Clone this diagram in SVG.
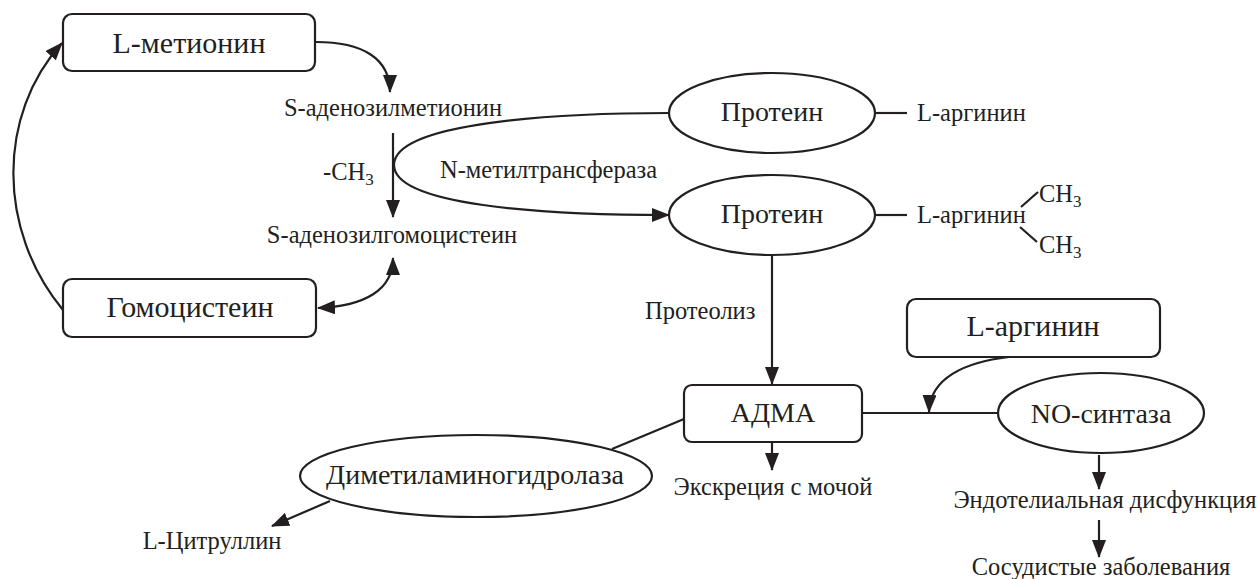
<svg xmlns="http://www.w3.org/2000/svg" width="1257" height="579" viewBox="0 0 1257 579" font-family="'Liberation Serif','DejaVu Serif',serif">
<style>
text{font-family:"Liberation Serif","DejaVu Serif",serif;fill:#231f20}
.box{fill:#fff;stroke:#231f20;stroke-width:2.2}
.ell{fill:#fff;stroke:#231f20;stroke-width:2.2}
.bt{font-size:30px;text-anchor:middle}
.et{font-size:28px;text-anchor:middle}
.lb{font-size:24.5px}
.c{text-anchor:middle}
.ln{fill:none;stroke:#231f20;stroke-width:2.2}
.ar{marker-end:url(#ah)}
.sub{font-size:17px}
</style>
<defs>
<marker id="ah" viewBox="0 0 18 14" refX="17" refY="7" markerWidth="18" markerHeight="14" markerUnits="userSpaceOnUse" orient="auto-start-reverse">
<path d="M0,0 L18,7 L0,14 Z" fill="#231f20"/>
</marker>
</defs>
<g id="connectors">
<path class="ln ar" d="M316 42 C362 42 390 58 390 92"/>
<path class="ln ar" d="M63 310 C-3 230 -3 115 62 43"/>
<path class="ln ar" d="M318 308 C365 306 393 290 393 258" marker-start="url(#ah)"/>
<path class="ln ar" d="M393 133 L393 217"/>
<path class="ln ar" d="M669 113 C560 113 394 122 394 165 C394 205 540 215 669 215"/>
<path class="ln" d="M875 113 L907 113"/>
<path class="ln" d="M875 215 L907 215"/>
<path class="ln" d="M1021 207 L1038 192"/>
<path class="ln" d="M1020 227 L1037 242"/>
<path class="ln ar" d="M772 256 L772 384"/>
<path class="ln" d="M862 413 L998 413"/>
<path class="ln ar" d="M1009 357 C965 362 930 378 929 412"/>
<path class="ln ar" d="M772 442 L772 470"/>
<path class="ln" d="M684 419 L612 449"/>
<path class="ln ar" d="M330 501 L272 526"/>
<path class="ln ar" d="M1099 455 L1099 489"/>
<path class="ln ar" d="M1099 520 L1099 557"/>
</g>
<g id="n-methionine"><rect class="box" x="63" y="14" width="252" height="57" rx="9"/><text class="bt" x="189" y="53">L-метионин</text></g>
<g id="n-homocysteine"><rect class="box" x="63" y="279" width="253" height="58" rx="9"/><text class="bt" x="190" y="317">Гомоцистеин</text></g>
<g id="n-sam"><text class="lb c" x="393" y="116">S-аденозилметионин</text></g>
<g id="n-sah"><text class="lb c" x="392" y="243">S-аденозилгомоцистеин</text></g>
<g id="l-ch3"><text class="lb" x="323" y="180">-CH<tspan class="sub" dy="5">3</tspan></text></g>
<g id="l-nmt"><text class="lb" x="440" y="178">N-метилтрансфераза</text></g>
<g id="n-protein1"><ellipse class="ell" cx="772" cy="113" rx="103" ry="40"/><text class="et" x="772" y="121">Протеин</text></g>
<g id="n-arg1"><text class="lb" x="917" y="121">L-аргинин</text></g>
<g id="n-protein2"><ellipse class="ell" cx="772" cy="215" rx="103" ry="40"/><text class="et" x="772" y="223">Протеин</text></g>
<g id="n-arg2"><text class="lb" x="917" y="223">L-аргинин</text>
<text class="lb" x="1039" y="202">CH<tspan class="sub" dy="5">3</tspan></text>
<text class="lb" x="1039" y="253">CH<tspan class="sub" dy="5">3</tspan></text></g>
<g id="l-proteolysis"><text class="lb" x="645" y="319">Протеолиз</text></g>
<g id="n-larg-box"><rect class="box" x="907" y="299" width="253" height="58" rx="9"/><text class="bt" x="1033" y="336">L-аргинин</text></g>
<g id="n-adma"><rect class="box" x="684" y="385" width="178" height="57" rx="8"/><text class="et" x="773" y="422">АДМА</text></g>
<g id="n-nos"><ellipse class="ell" cx="1101" cy="413" rx="103" ry="40"/><text class="et" x="1101" y="423">NO-синтаза</text></g>
<g id="n-ddah"><ellipse class="ell" cx="476" cy="476" rx="176" ry="41"/><text class="et" x="475" y="484">Диметиламиногидролаза</text></g>
<g id="n-excretion"><text class="lb c" x="773" y="495">Экскреция с мочой</text></g>
<g id="n-citrulline"><text class="lb c" x="212" y="549">L-Цитруллин</text></g>
<g id="n-endo"><text class="lb c" x="1105" y="508">Эндотелиальная дисфункция</text></g>
<g id="n-vasc"><text class="lb c" x="1101" y="575">Сосудистые заболевания</text></g>
</svg>
